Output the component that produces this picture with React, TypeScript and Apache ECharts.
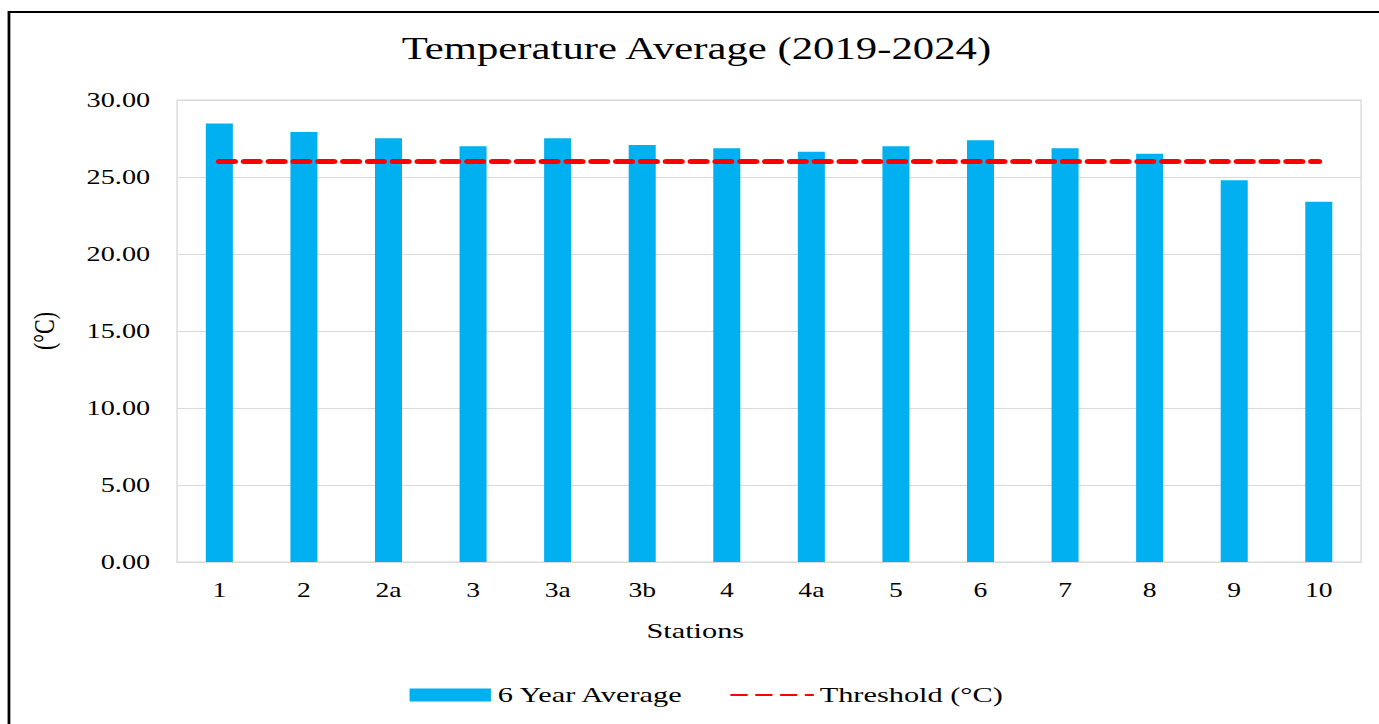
import React, { useEffect, useRef } from "react";
import * as echarts from "echarts";

const stations = ["1", "2", "2a", "3", "3a", "3b", "4", "4a", "5", "6", "7", "8", "9", "10"];
const sixYearAverage = [28.48, 27.93, 27.51, 26.99, 27.51, 27.07, 26.86, 26.64, 26.99, 27.38, 26.86, 26.51, 24.79, 23.4];
const threshold = [26, 26, 26, 26, 26, 26, 26, 26, 26, 26, 26, 26, 26, 26];
const yTicks = { min: 0, max: 30, interval: 5 };

const FONT = "'Liberation Serif', 'Times New Roman', serif";
// The reference image is horizontally stretched; render at a narrower width and stretch.
const STRETCH = 1.379;
const BASE_W = 1000;

export default function App() {
  const ref = useRef<HTMLDivElement>(null);
  useEffect(() => {
    if (!ref.current) return;
    const chart = echarts.init(ref.current, undefined, { renderer: "svg" });
    chart.setOption({
      animation: false,
      backgroundColor: "#ffffff",
      textStyle: { fontFamily: FONT },
      title: {
        text: "Temperature Average (2019-2024)",
        left: 500,
        textAlign: "center",
        top: 28,
        textStyle: { fontFamily: FONT, fontSize: 31, fontWeight: "normal", color: "#000" },
      },
      graphic: [
        {
          type: "rect",
          shape: { x: 6.5, y: 12, width: 1100, height: 800 },
          style: { fill: "none", stroke: "#000", lineWidth: 2 },
          silent: true,
        },
      ],
      legend: {
        bottom: 13,
        left: 292,
        itemWidth: 59,
        itemHeight: 13,
        itemGap: 33,
        textStyle: { fontFamily: FONT, fontSize: 22, color: "#000" },
        data: [
          { name: "6 Year Average", icon: "rect" },
          { name: "Threshold (°C)", itemStyle: { opacity: 0 } },
        ],
      },
      grid: {
        left: 128.4,
        right: 13,
        top: 100,
        bottom: 162,
        show: true,
        borderColor: "#d9d9d9",
        borderWidth: 1,
      },
      xAxis: {
        type: "category",
        data: stations,
        name: "Stations",
        nameLocation: "middle",
        nameGap: 58,
        nameTextStyle: { fontFamily: FONT, fontSize: 22, color: "#000", padding: [0, 107, 0, 0] },
        axisLine: { show: true, lineStyle: { color: "#d9d9d9", width: 1 } },
        axisTick: { show: false },
        axisLabel: { fontFamily: FONT, fontSize: 20, color: "#000", margin: 18 },
      },
      yAxis: {
        type: "value",
        min: yTicks.min,
        max: yTicks.max,
        interval: yTicks.interval,
        name: "(°C)",
        nameLocation: "middle",
        nameGap: 86,
        nameRotate: 90,
        nameTextStyle: { fontFamily: FONT, fontSize: 22, color: "#000" },
        axisLine: { show: false },
        axisTick: { show: false },
        splitLine: { lineStyle: { color: "#d9d9d9", width: 1 } },
        axisLabel: {
          fontFamily: FONT,
          fontSize: 20.5,
          color: "#000",
          margin: 19.5,
          formatter: (v: number) => v.toFixed(2),
        },
      },
      series: [
        {
          name: "6 Year Average",
          type: "bar",
          data: sixYearAverage,
          barWidth: 19.6,
          itemStyle: { color: "#00B0F0" },
        },
        {
          name: "Threshold (°C)",
          type: "line",
          data: threshold,
          symbol: "none",
          lineStyle: { color: "#FF0000", width: 5, type: [11, 7], cap: "round" },
          itemStyle: { color: "#FF0000" },
        },
      ],
    });
    return () => chart.dispose();
  }, []);
  return (
    <div
      ref={ref}
      style={{
        position: "fixed",
        left: 0,
        top: 0,
        width: BASE_W,
        height: 724,
        transform: `scaleX(${STRETCH})`,
        transformOrigin: "0 0",
      }}
    />
  );
}
